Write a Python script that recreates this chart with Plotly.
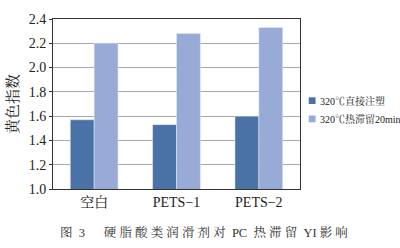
import plotly.graph_objects as go

categories = ["空白", "PETS−1", "PETS−2"]
direct = [1.57, 1.53, 1.60]
retained = [2.20, 2.28, 2.33]
series_names = ["320℃直接注塑", "320℃热滞留20min"]
colors = ["#4a72a6", "#97abd6"]

serif = "Liberation Serif, Noto Serif CJK SC, Noto Sans CJK SC, serif"

fig = go.Figure()
fig.add_bar(x=categories, y=direct, name=series_names[0], marker_color=colors[0])
fig.add_bar(x=categories, y=retained, name=series_names[1], marker_color=colors[1])

L, R, T, B = 46, 100, 12, 59
pw, ph = 400 - L - R, 248 - T - B


def px(x):
    return (x - L) / pw


def py(y):
    return ((248 - B) - y) / ph


shapes = []
annotations = []
for i, (name, col) in enumerate(zip(series_names, colors)):
    yc = 97 + i * 19
    shapes.append(dict(type="rect", xref="paper", yref="paper",
                       x0=px(309), x1=px(316), y0=py(yc + 3.5), y1=py(yc - 3.5),
                       fillcolor=col, line=dict(width=0)))
    annotations.append(dict(text=name, x=px(319), y=py(yc), xref="paper", yref="paper",
                            xanchor="left", yanchor="middle", showarrow=False,
                            font=dict(size=10, family=serif, color="#222")))

annotations.append(dict(text="图  3　  硬 脂 酸 类 润 滑 剂 对  PC  热 滞 留  YI 影 响",
                        x=px(201), y=py(234), xref="paper", yref="paper",
                        yanchor="middle", xanchor="center", showarrow=False,
                        font=dict(size=12.5, family=serif, color="#333")))

fig.update_layout(
    width=400, height=248,
    margin=dict(l=L, r=R, t=T, b=B),
    paper_bgcolor="white", plot_bgcolor="white",
    barmode="group", bargap=0.42, bargroupgap=0,
    showlegend=False,
    font=dict(family=serif, color="#222", size=12),
    xaxis=dict(showline=True, linecolor="#333", linewidth=1, mirror=True,
               ticks="", tickfont=dict(size=14, family=serif)),
    yaxis=dict(range=[1.0, 2.4], dtick=0.2, tickformat=".1f",
               showline=True, linecolor="#333", linewidth=1, mirror=True,
               showgrid=True, gridcolor="#aaa", gridwidth=1,
               ticks="outside", ticklen=3, tickcolor="#333",
               tickfont=dict(size=14, family=serif),
               title=dict(text="黄色指数", font=dict(size=15, family=serif), standoff=6)),
    shapes=shapes,
    annotations=annotations,
)
fig.write_html("out.html")
